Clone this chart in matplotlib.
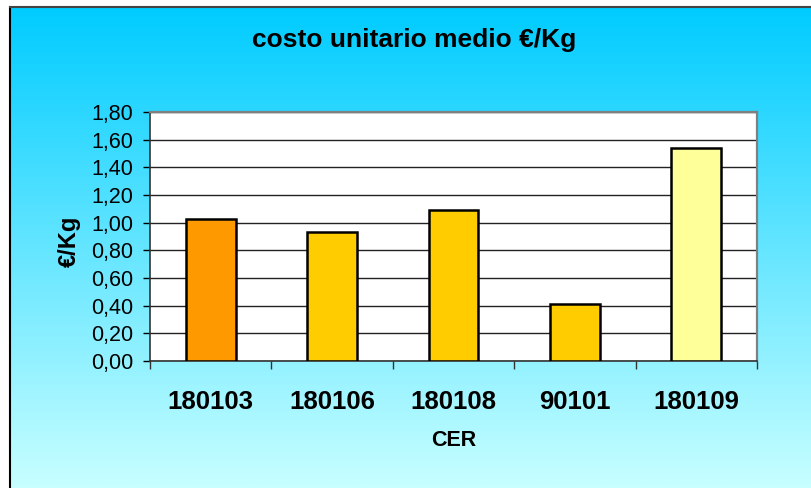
import numpy as np
import matplotlib
matplotlib.use("Agg")
import matplotlib.pyplot as plt
from matplotlib.colors import LinearSegmentedColormap

categories = ["180103", "180106", "180108", "90101", "180109"]
values = [1.03, 0.93, 1.09, 0.41, 1.54]
bar_colors = ["#FF9900", "#FFCC00", "#FFCC00", "#FFCC00", "#FFFF99"]
yticks = [0.0, 0.2, 0.4, 0.6, 0.8, 1.0, 1.2, 1.4, 1.6, 1.8]
ytick_labels = ["0,00", "0,20", "0,40", "0,60", "0,80", "1,00", "1,20", "1,40", "1,60", "1,80"]
title = "costo unitario medio €/Kg"
xlabel = "CER"
ylabel = "€/Kg"

plt.rcParams['font.family'] = ['Liberation Sans', 'DejaVu Sans']

W, H = 811, 488
fig = plt.figure(figsize=(W / 100, H / 100), dpi=100)
fig.patch.set_facecolor("white")

# background gradient panel
bg = fig.add_axes([10 / W, 0, 1 - 10 / W, 1 - 7 / H])
cmap = LinearSegmentedColormap.from_list("bg", ["#00CCFF", "#C8FFFF"])
grad = np.linspace(0, 1, 256).reshape(-1, 1)
bg.imshow(grad, aspect="auto", cmap=cmap, extent=[0, 1, 0, 1], origin="upper")
bg.set_xlim(0, 1); bg.set_ylim(0, 1)
bg.set_xticks([]); bg.set_yticks([])
for s in ["right", "bottom"]:
    bg.spines[s].set_visible(False)
bg.spines["left"].set_color("black"); bg.spines["left"].set_linewidth(1.5)
bg.spines["top"].set_color("#444444"); bg.spines["top"].set_linewidth(1.5)

left, right, top, bottom = 150, 757, 112, 361
ax = fig.add_axes([left / W, 1 - bottom / H, (right - left) / W, (bottom - top) / H])
ax.set_facecolor("white")
x = np.arange(len(categories))
ax.bar(x, values, width=0.41, color=bar_colors, edgecolor="black", linewidth=1.8, zorder=3)
ax.set_xlim(-0.5, len(categories) - 0.5)
ax.set_ylim(0, 1.8)
ax.set_yticks(yticks)
ax.set_yticklabels(ytick_labels, fontsize=15.5)
ax.yaxis.grid(True, color="#222222", linewidth=1.0, zorder=1)
ax.set_axisbelow(True)
ax.tick_params(axis="y", direction="out", length=5, width=1, pad=7, colors="black")

ax.set_xticks(x)
ax.set_xticklabels(categories, fontsize=18.5, fontweight="bold")
ax.tick_params(axis="x", which="major", length=0, pad=21)
ax.set_xticks(np.arange(-0.5, len(categories)), minor=True)
ax.tick_params(axis="x", which="minor", direction="out", length=6, width=1, color="#333333")

ax.spines["left"].set_color("#333333"); ax.spines["left"].set_linewidth(1.2)
ax.spines["bottom"].set_color("#333333"); ax.spines["bottom"].set_linewidth(1.2)
ax.spines["top"].set_color("#808080"); ax.spines["top"].set_linewidth(1.6)
ax.spines["right"].set_color("#808080"); ax.spines["right"].set_linewidth(1.6)

fig.text(414 / W, 1 - 40 / H, title, fontsize=19, fontweight="bold", ha="center", va="center")
fig.text(454 / W, 1 - 440 / H, xlabel, fontsize=15.5, fontweight="bold", ha="center", va="center")
fig.text(69 / W, 1 - 241 / H, ylabel, fontsize=17, fontweight="bold", ha="center", va="center", rotation=90)

fig.savefig("out.png", dpi=100, facecolor=fig.get_facecolor())
